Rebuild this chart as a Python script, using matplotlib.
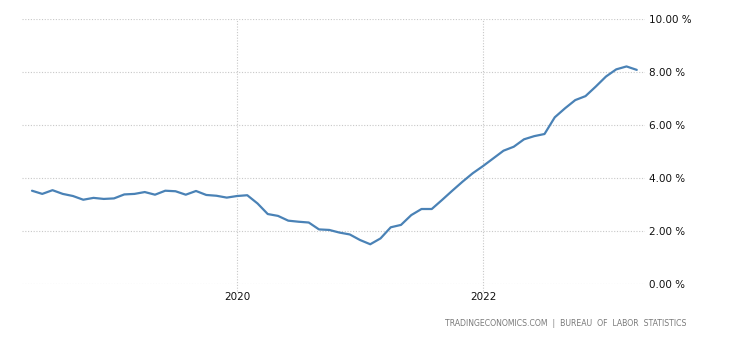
import numpy as np
import matplotlib.pyplot as plt

# Monthly values, May 2018 - April 2023 (percent, year over year)
valores = [
    3.52, 3.40, 3.54, 3.40, 3.32, 3.18, 3.25, 3.21,
    3.23, 3.38, 3.40, 3.47, 3.37, 3.52, 3.50, 3.37, 3.51, 3.36, 3.33, 3.26,
    3.32, 3.35, 3.04, 2.64, 2.57, 2.39, 2.35, 2.32, 2.06, 2.04, 1.94, 1.87,
    1.66, 1.50, 1.72, 2.14, 2.23, 2.60, 2.83, 2.83, 3.17, 3.52, 3.86, 4.18,
    4.45, 4.74, 5.03, 5.18, 5.46, 5.58, 5.66, 6.29, 6.63, 6.94, 7.09, 7.45,
    7.83, 8.10, 8.21, 8.08,
]
anio_inicio = 2018
mes_inicio = 5
fechas = [anio_inicio + (mes_inicio - 1 + i) / 12 for i in range(len(valores))]

ticks_y = [0, 2, 4, 6, 8, 10]
ticks_x = [2020, 2022]
fuente = "TRADINGECONOMICS.COM  |  BUREAU  OF  LABOR  STATISTICS"

fig = plt.figure(figsize=(7.3, 3.4), dpi=100)
ax = fig.add_axes([22 / 730, 1 - 284 / 340, 623 / 730, 265 / 340])

ax.plot(fechas, valores, color='#4a82b6', linewidth=1.6, solid_joinstyle='round',
        solid_capstyle='round', zorder=3)

ax.set_xlim(2018.252, 2023.317)
ax.set_ylim(0, 10)

# Rejilla punteada
for y in ticks_y:
    ax.axhline(y, color='#c8c8c8', linewidth=0.8, linestyle=(0, (1, 1.5)), zorder=1)
for x in ticks_x:
    ax.plot([x, x], [-0.25, 10], color='#c8c8c8', linewidth=0.8, linestyle=(0, (1, 1.5)),
            zorder=1, clip_on=False)

for s in ax.spines.values():
    s.set_visible(False)

ax.yaxis.tick_right()
ax.set_yticks(ticks_y)
ax.set_yticklabels(['%.2f %%' % v for v in ticks_y])
ax.tick_params(axis='y', length=0, pad=3, labelsize=7.5, labelcolor='#111111')
ax.set_xticks(ticks_x)
ax.set_xticklabels([str(t) for t in ticks_x])
ax.tick_params(axis='x', length=0, pad=6, labelsize=7.5, labelcolor='#111111')

fig.text(686 / 730, 1 - 324 / 340, fuente, ha='right', va='center', fontsize=5.6,
         color='#7a7a7a')

fig.savefig('out.png', dpi=100)
